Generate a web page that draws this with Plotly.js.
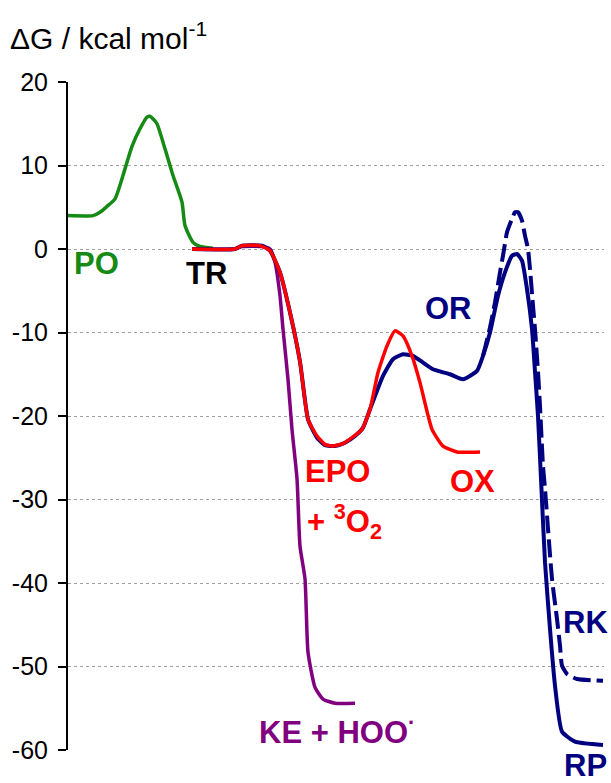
<!DOCTYPE html>
<html>
<head>
<meta charset="utf-8">
<script src="https://cdn.plot.ly/plotly-3.0.1.min.js"></script>
<style>html,body{margin:0;padding:0;background:#fff;}#chart{width:611px;height:783px;}</style>
</head>
<body>
<div id="chart"></div>
<script>
// Reaction coordinate (arbitrary units) and free energies (kcal/mol)
const poX = [0, 25, 32, 39, 47, 57, 64, 72, 79, 82, 85, 89, 97, 105, 114, 117, 125, 132, 145];
const poY = [4.0, 4.0, 4.4, 5.1, 6.0, 9.6, 12.3, 14.4, 15.8, 15.9, 15.6, 15.0, 12.0, 8.8, 5.6, 2.8, 0.8, 0.3, 0.1];

const keX = [124, 167, 174, 194, 202, 207, 212, 215, 220, 224, 229, 232, 237, 240, 247, 255, 267, 287];
const keY = [0, 0, 0.3, 0.3, 0, -1.6, -5.6, -9.6, -15.6, -21.6, -27.5, -35.6, -39.5, -48.3, -52.5, -53.9, -54.4, -54.4];

const orX = [124, 167, 174, 194, 202, 212, 222, 232, 240, 249, 257, 267, 277, 287, 295, 302, 315, 325, 335, 345, 355, 365, 382, 395, 409, 415, 422, 430, 437, 444, 449, 454, 459, 464, 467, 470, 473, 477, 482, 487, 494, 507, 535];
const orY = [0, 0, 0.4, 0.4, -0.2, -2.8, -7.6, -13.5, -20.4, -22.6, -23.5, -23.6, -23.2, -22.4, -21.4, -19.2, -15.2, -13.2, -12.6, -12.8, -13.6, -14.4, -15.0, -15.6, -14.6, -12.8, -10.0, -5.6, -2.8, -0.8, -0.6, -1.4, -4.8, -9.6, -14.7, -20.0, -27.5, -37.5, -45.5, -52.3, -57.8, -59.0, -59.4];

const rkX = [415, 422, 427, 432, 435, 439, 444, 447, 450, 454, 457, 460, 462, 465, 467, 470, 472, 475, 477, 480, 484, 489, 492, 494, 499, 509, 535];
const rkY = [-12.8, -9.4, -6.4, -2.8, -0.8, 2.0, 3.6, 4.4, 4.4, 3.4, 1.6, 0, -2.4, -6.8, -9.6, -14.7, -18.8, -26.0, -28.7, -33.5, -39.5, -44.3, -47.5, -49.9, -50.9, -51.5, -51.7];

const oxX = [124, 167, 174, 192, 202, 212, 222, 232, 240, 249, 257, 265, 275, 285, 294, 302, 310, 319, 327, 335, 344, 352, 364, 375, 389, 412];
const oxY = [0, 0, 0.4, 0.4, -0.2, -2.8, -7.6, -13.5, -20.4, -22.4, -23.4, -23.6, -23.3, -22.5, -21.6, -19.2, -14.8, -11.6, -9.8, -10.4, -12.8, -16.0, -21.6, -23.6, -24.3, -24.3];

const yTicks = [20, 10, 0, -10, -20, -30, -40, -50, -60];

const FONT = 'Liberation Sans, Arial, sans-serif';
const traces = [
  {x: poX, y: poY, mode: 'lines', line: {color: '#158a15', width: 3.5, shape: 'spline', smoothing: 0.6}, name: 'PO'},
  {x: keX, y: keY, mode: 'lines', line: {color: '#800080', width: 3.5, shape: 'spline', smoothing: 0.5}, name: 'KE'},
  {x: rkX, y: rkY, mode: 'lines', line: {color: '#000080', width: 4, dash: '18px,6px', shape: 'spline', smoothing: 0.5}, name: 'RK'},
  {x: orX, y: orY, mode: 'lines', line: {color: '#000080', width: 4, shape: 'spline', smoothing: 0.5}, name: 'OR'},
  {x: oxX, y: oxY, mode: 'lines', line: {color: '#ff0000', width: 3.5, shape: 'spline', smoothing: 0.5}, name: 'OX'}
];

function lab(text, x, y, color, xanchor, yref) {
  return {text: text, x: x, y: y, xref: 'x', yref: yref || 'y', showarrow: false,
          xanchor: xanchor || 'center', yanchor: 'middle',
          font: {family: FONT, size: 31, color: color, weight: 'bold'}};
}

const layout = {
  width: 611, height: 783,
  margin: {l: 68, r: 7, t: 82, b: 33},
  paper_bgcolor: '#fff', plot_bgcolor: '#fff',
  showlegend: false,
  title: {text: 'ΔG / kcal mol<sup>-1</sup>', x: 10/611, xanchor: 'left', xref: 'container',
          y: 1 - 38/783, yanchor: 'middle', yref: 'container',
          font: {family: FONT, size: 30, color: '#000'}},
  xaxis: {range: [0, 536], showgrid: false, zeroline: false, showline: false, showticklabels: false, ticks: ''},
  yaxis: {range: [-60, 20], tickvals: yTicks, ticktext: yTicks.map(String),
          showline: true, linecolor: '#000', linewidth: 2,
          ticks: 'outside', ticklen: 8, tickwidth: 2, tickcolor: '#000',
          ticklabelstandoff: 5,
          showgrid: true, gridcolor: '#a0a0a0', griddash: 'dot', gridwidth: 1,
          zeroline: false, tickfont: {family: FONT, size: 25, color: '#000'}},
  annotations: [
    lab('<b>PO</b>', 28, -1.7, '#158a15'),
    lab('<b>TR</b>', 138, -2.9, '#000000'),
    lab('<b>OR</b>', 380, -7.1, '#000080'),
    lab('<b>EPO</b>', 269, -26.7, '#ff0000'),
    lab('<b>+ <sup>3</sup>O<sub>2</sub></b>', 237, -32.6, '#ff0000', 'left'),
    lab('<b>OX</b>', 404, -27.9, '#ff0000'),
    lab('<b>RK</b>', 517, -44.7, '#000080'),
    lab('<b>RP</b>', 517, (-61.85 + 60) / 80, '#000080', 'center', 'paper'),
    lab('<b>KE + HOO<sup>·</sup></b>', 189, -57.6, '#800080', 'left')
  ]
};

Plotly.newPlot('chart', traces, layout, {staticPlot: true, displayModeBar: false});
</script>
</body>
</html>
